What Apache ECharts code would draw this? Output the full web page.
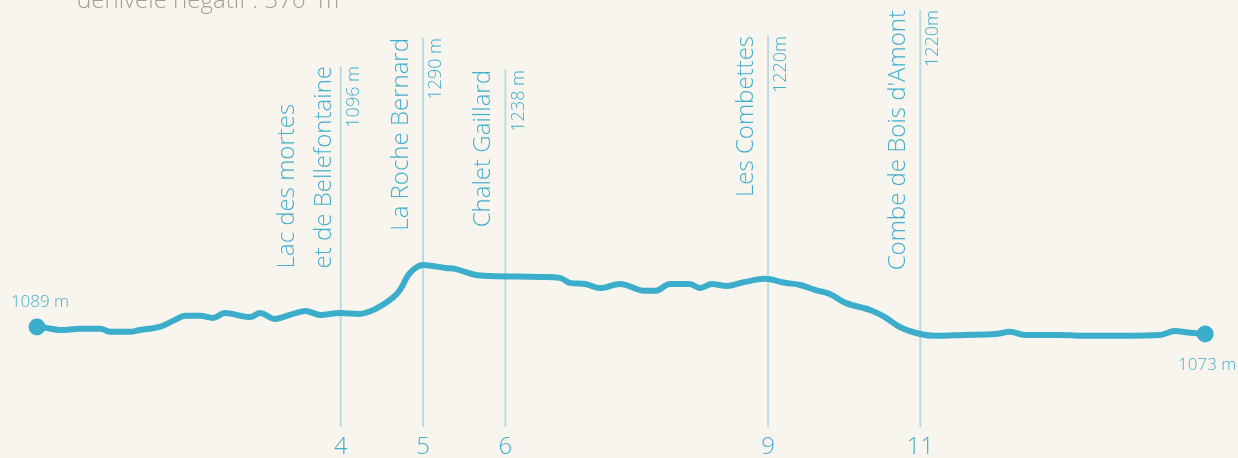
<!DOCTYPE html>
<html><head><meta charset="utf-8">
<script src="https://cdn.jsdelivr.net/npm/echarts@6/dist/echarts.min.js"></script>
<style>html,body{margin:0;padding:0;background:#f8f5ef;}#c{width:1238px;height:458px;}</style>
</head><body><div id="c"></div>
<script>
// ---- data ----
const distanceKm = [0,0.10,0.28,0.52,0.77,0.89,1.13,1.25,1.49,1.68,1.80,1.98,2.14,2.28,2.59,2.71,2.89,3.07,3.26,3.44,3.68,3.92,4.11,4.32,4.41,4.53,4.69,4.96,5.08,5.32,5.50,6.11,6.35,6.47,6.66,6.84,7.08,7.39,7.51,7.69,7.93,8.05,8.20,8.38,8.60,8.84,9.09,9.27,9.45,9.63,9.82,10.12,10.30,10.48,10.73,10.91,11.27,11.64,11.82,12.00,12.43,12.79,13.64,13.82,14.01,14.19];
const elevationM = [1089,1086,1079,1083,1083,1073,1073,1079,1089,1112,1125,1125,1118,1134,1121,1134,1115,1128,1141,1128,1134,1131,1147,1183,1209,1264,1290,1280,1277,1258,1254,1251,1248,1232,1228,1215,1228,1206,1206,1228,1228,1215,1228,1222,1235,1245,1232,1225,1209,1196,1167,1144,1121,1089,1066,1060,1063,1066,1073,1063,1063,1060,1063,1076,1070,1066];
const markerKm = [3.69, 4.69, 5.69, 8.88, 10.73];
const markerKmLabel = ['4', '5', '6', '9', '11'];
const markerName = ['Lac des mortes\net de Bellefontaine', 'La Roche Bernard', 'Chalet Gaillard', 'Les Combettes', "Combe de Bois d'Amont"];
const markerElevLabel = ['1096 m', '1290 m', '1238 m', '1220m', '1220m'];
const startLabel = '1089 m';
const endLabel = '1073 m';
const subtitle = 'dénivelé négatif : 370  m';

// ---- layout / style ----
const markerTop = [66, 38, 70, 36, 10];
const nameGap = [5, 10, 10, 10, 10];
const LINE_BOTTOM = 427;
const FONT = '"Open Sans", Lato, sans-serif';
const NAME_FONT = '300 24px ' + FONT;
const ELEV_FONT = '300 18px ' + FONT;
const KM_FONT = '300 24px ' + FONT;
const TEXT_COLOR = '#45afcd';
const MARK_COLOR = '#b9dce3';
const LINE_COLOR = '#3cadcb';

const measureCtx = document.createElement('canvas').getContext('2d');
function textW(t, font) { measureCtx.font = font; return measureCtx.measureText(t).width; }

const profile = distanceKm.map((d, i) => [d, elevationM[i]]);
const ends = [profile[0], profile[profile.length - 1]];

const chart = echarts.init(document.getElementById('c'));
chart.setOption({
  backgroundColor: '#f8f5ef',
  animation: false,
  title: {
    text: subtitle, left: 77, top: -11, padding: 0,
    textStyle: { fontFamily: FONT, fontWeight: 300, fontSize: 24, color: '#a49e98' }
  },
  grid: { left: 37, right: 32, top: 0, bottom: 0 },
  xAxis: { type: 'value', min: 0, max: 14.2, show: false },
  yAxis: { type: 'value', min: 664, max: 2149, show: false },
  series: [
    {
      type: 'custom',
      z: 1,
      data: markerKm.map((k, i) => [k, i]),
      renderItem(params, api) {
        const i = params.dataIndex;
        const x = api.coord([api.value(0), 1000])[0];
        const top = markerTop[i];
        const children = [
          { type: 'line', shape: { x1: x, y1: top, x2: x, y2: LINE_BOTTOM },
            style: { stroke: MARK_COLOR, lineWidth: 2 } },
          { type: 'text', x: x, y: 447,
            style: { text: markerKmLabel[i], font: KM_FONT, fill: TEXT_COLOR, align: 'center', verticalAlign: 'middle' } },
          { type: 'text', x: x + 4, y: top, rotation: Math.PI / 2,
            style: { text: markerElevLabel[i], font: ELEV_FONT, fill: TEXT_COLOR, align: 'right', verticalAlign: 'top' } }
        ];
        const lines = markerName[i].split('\n');
        const maxW = Math.max.apply(null, lines.map(l => textW(l, NAME_FONT)));
        const n = lines.length;
        lines.forEach((l, j) => {
          const k = n - 1 - j;
          children.push({ type: 'text', x: x - nameGap[i] - k * 37, y: top + maxW, rotation: Math.PI / 2,
            style: { text: l, font: NAME_FONT, fill: TEXT_COLOR, align: 'left', verticalAlign: 'bottom' } });
        });
        return { type: 'group', children };
      }
    },
    {
      type: 'line',
      z: 3,
      data: profile,
      smooth: 0.35,
      showSymbol: false,
      lineStyle: { color: LINE_COLOR, width: 6, cap: 'round', join: 'round' }
    },
    {
      type: 'scatter',
      z: 4,
      data: [
        { value: ends[0], label: { position: 'top', distance: 8, offset: [3, 0] } },
        { value: ends[1], label: { position: 'bottom', distance: 14, offset: [2, 0] } }
      ],
      symbolSize: 17,
      itemStyle: { color: LINE_COLOR, opacity: 1 },
      label: {
        show: true, fontFamily: FONT, fontWeight: 300, fontSize: 17, color: TEXT_COLOR,
        formatter: p => p.dataIndex === 0 ? startLabel : endLabel
      }
    }
  ]
});
</script></body></html>
